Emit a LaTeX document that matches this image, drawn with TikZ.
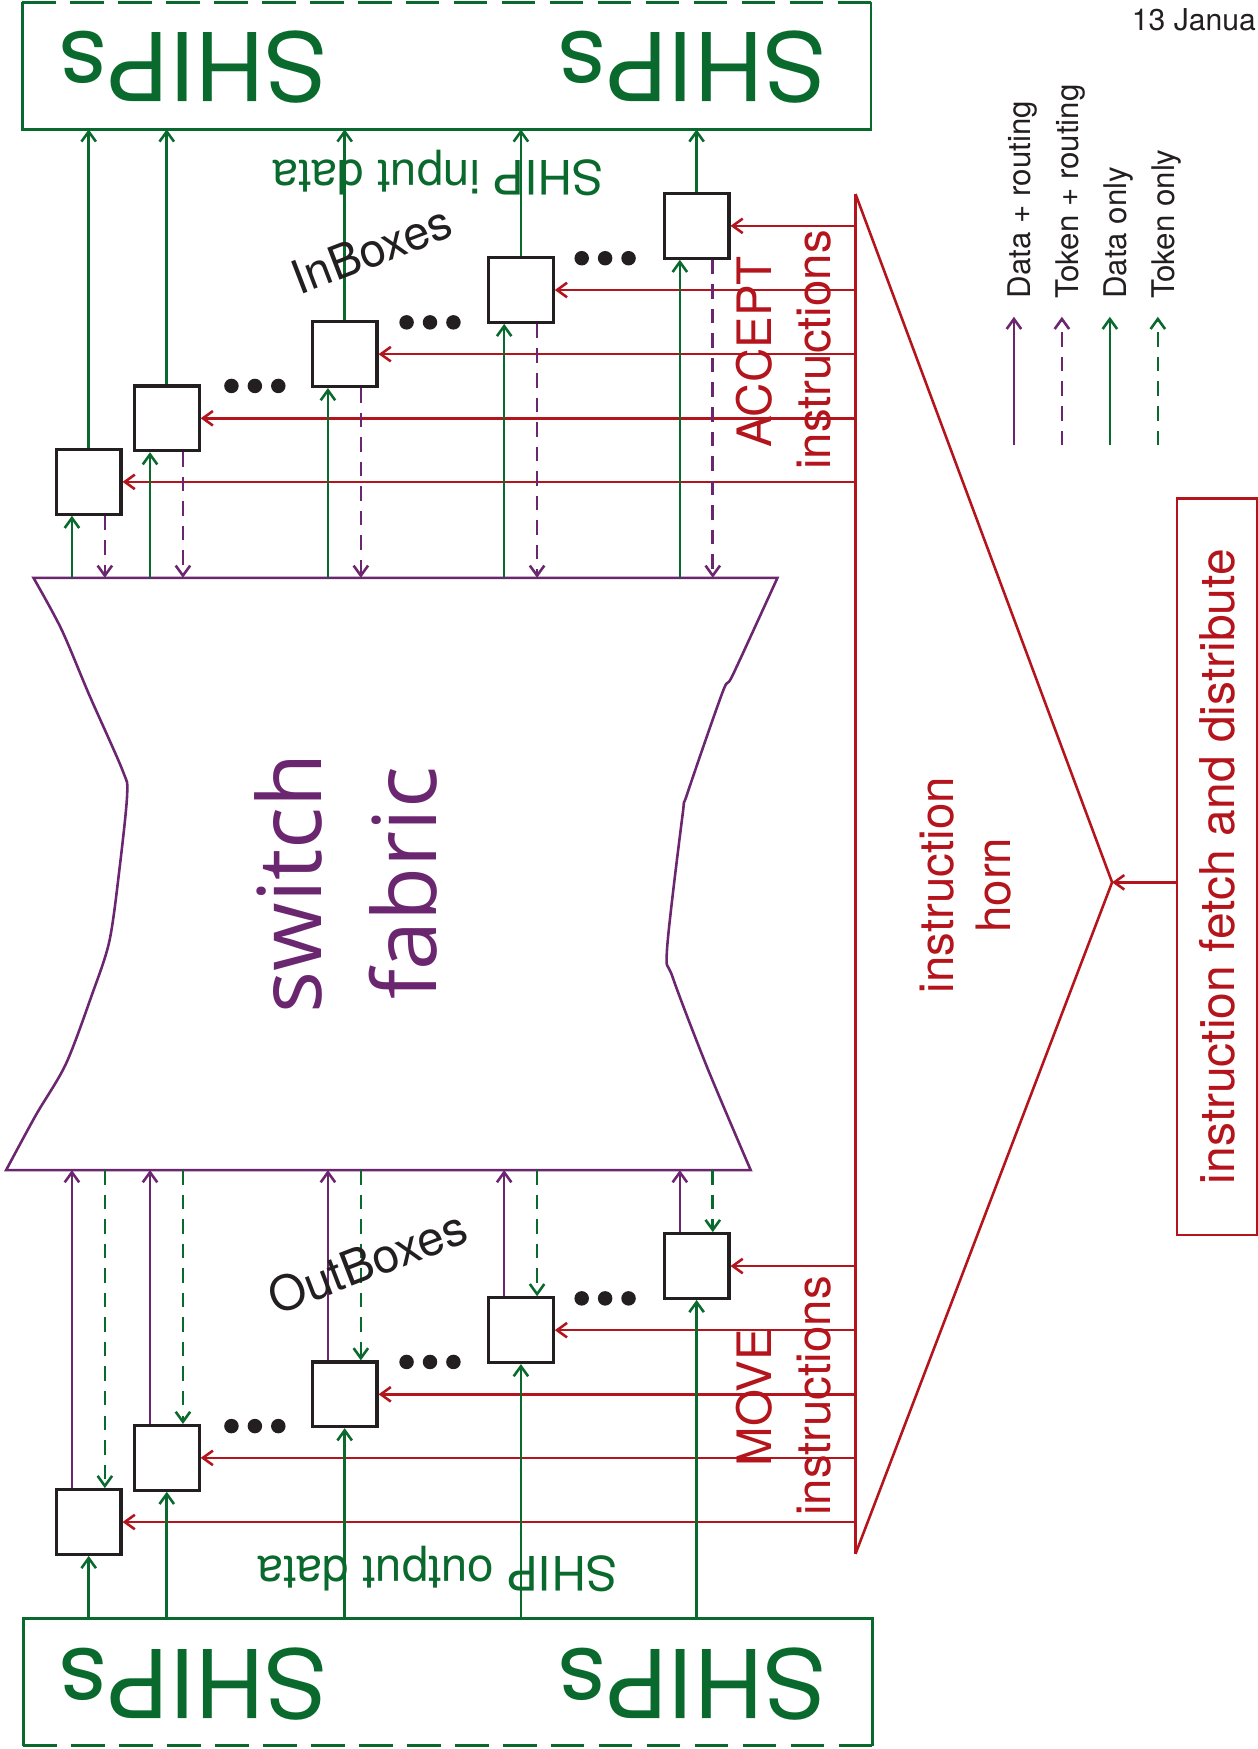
\documentclass[tikz,border=0pt]{standalone}
\usepackage{fontspec}
\setmainfont{TeX Gyre Heros}
\newfontfamily\fabfont{Open Sans}
\usetikzlibrary{arrows.meta,calc}
\definecolor{sg}{RGB}{10,106,46}
\definecolor{pu}{RGB}{107,38,112}
\definecolor{rd}{RGB}{180,20,28}
\definecolor{bk}{RGB}{35,31,32}
\newcommand\fsz[1]{\fontsize{#1}{#1}\selectfont}
\begin{document}
\begin{tikzpicture}[x=1pt,y=-1pt,
  tip/.style={-{Straight Barb[length=9pt,width=13pt,line width=2.3pt]}},
  dat/.style={draw=sg, line width=2.3pt},
  pdat/.style={draw=pu, line width=2.3pt},
  tok/.style={draw=pu, line width=2.3pt, dash pattern=on 13pt off 9pt},
  gtok/.style={draw=sg, line width=2.3pt, dash pattern=on 13pt off 9pt},
  ins/.style={draw=rd, line width=2.3pt},
  ibox/.style={draw=bk, fill=white, line width=2.8pt, minimum width=58pt, minimum height=58pt, inner sep=0pt},
  txt/.style={inner sep=0pt},
]
\useasboundingbox (0,0) rectangle (1127,1568);
\fill[white] (0,0) rectangle (1127,1568);

% SHIPs boxes
\draw[sg, line width=2.3pt] (20,2) -- (20,116) -- (781,116) -- (781,2);
\draw[sg, line width=2.3pt, dash pattern=on 30pt off 13pt] (20,2) -- (781,2);
\draw[sg, line width=2.3pt] (21,1565) -- (21,1451) -- (782,1451) -- (782,1565);
\draw[sg, line width=2.3pt, dash pattern=on 30pt off 13pt] (21,1565) -- (782,1565);
\node[txt, rotate=180, text=sg, font=\fsz{85}] (sh1) at (173.5,60.5) {SHIPs};
\node[txt, rotate=180, text=sg, font=\fsz{85}] (sh2) at (620.5,60.5) {SHIPs};
\node[txt, rotate=180, text=sg, font=\fsz{85}] (sh3) at (173.5,1510) {SHIPs};
\node[txt, rotate=180, text=sg, font=\fsz{85}] (sh4) at (620.5,1510) {SHIPs};
\node[txt, rotate=180, anchor=base, text=sg, font=\fsz{42.5}] (sin) at (392.5,143.5) {SHIP input data};
\node[txt, rotate=180, anchor=base, text=sg, font=\fsz{42.5}] (sout) at (392,1395.6) {SHIP output data};

% switch fabric
\draw[pu, line width=2.3pt, fill=white] (30,518) -- (697,518)
  -- plot[smooth, tension=0.5] coordinates {(697,518) (657,605) (648,620) (616,712) (612,730) (598,851) (603,876) (634,957) (673,1049)}
  -- (5.5,1049)
  -- plot[smooth, tension=0.5] coordinates {(5.5,1049) (32,1000) (59,954) (82,893) (98,844) (107,780) (114,712) (110,691) (80,623) (55,564) (30,518)} -- cycle;
\node[txt, rotate=90, anchor=base, text=pu, font=\fabfont\fsz{79}] (sw) at (288,792) {switch};
\node[txt, rotate=90, anchor=base, text=pu, font=\fabfont\fsz{79}] (fb) at (391,792) {fabric};

% instruction horn
\coordinate (apex) at (997,791);
\draw[rd, line width=2.3pt] (767,174) -- (apex) -- (767,1393);
\draw[rd, line width=3.2pt] (767,174) -- (767,1393);
\node[txt, rotate=90, anchor=base, text=rd, font=\fsz{42.5}] (ih1) at (854.7,793.5) {instruction};
\node[txt, rotate=90, anchor=base, text=rd, font=\fsz{42.5}] (ih2) at (905.5,793.5) {horn};
\node[txt, rotate=90, anchor=base, text=rd, font=\fsz{42.5}] (acc1) at (692,315.3) {ACCEPT};
\node[txt, rotate=90, anchor=base, text=rd, font=\fsz{42.5}] (acc2) at (744.1,313.7) {instructions};
\node[txt, rotate=90, anchor=base, text=rd, font=\fsz{42.5}] (mov1) at (692,1253) {MOVE};
\node[txt, rotate=90, anchor=base, text=rd, font=\fsz{42.5}] (mov2) at (744.1,1251.5) {instructions};

% fetch box
\node[draw=rd, line width=2.3pt, rotate=90, minimum width=660pt, minimum height=72pt, inner sep=0pt, text=rd, font=\fsz{43}] (fetch) at (1091,777) {instruction fetch and distribute};
\draw[ins, tip] (fetch.north |- apex) -- (apex);

% boxes and coordinates
\foreach \i/\x/\yi/\yo in {1/79.5/432/1364.5, 2/149.5/375/1307, 3/309/317.5/1250, 4/467/260/1192.5, 5/624.5/202.5/1135} {
  \coordinate (fa\i) at (\x-15,518);
  \coordinate (fb\i) at (\x+14.5,518);
  \coordinate (ga\i) at (\x-15,1049);
  \coordinate (gb\i) at (\x+14.5,1049);
  \coordinate (st\i) at (\x,116);
  \coordinate (sb\i) at (\x,1451);
  \coordinate (ha\i) at (767,\yi);
  \coordinate (hb\i) at (767,\yo);
  \node[ibox] (in\i) at (\x,\yi) {};
  \node[ibox] (out\i) at (\x,\yo) {};
}
\foreach \i in {1,...,5} {
  \draw[dat, tip] (in\i.north) -- (st\i);
  \draw[dat, tip] (fa\i) -- (fa\i |- in\i.south);
  \draw[tok, tip] (fb\i |- in\i.south) -- (fb\i);
  \draw[ins, tip] (ha\i) -- (in\i.east);
  \draw[dat, tip] (sb\i) -- (out\i.south);
  \draw[pdat, tip] (ga\i |- out\i.north) -- (ga\i);
  \draw[gtok, tip] (gb\i) -- (gb\i |- out\i.north);
  \draw[ins, tip] (hb\i) -- (out\i.east);
}

% ellipsis dots
\foreach \x/\y in {207.5/346, 364.5/289, 521.5/231.5, 207.5/1278.5, 364.5/1221, 521.5/1164} {
  \foreach \d in {0,21,42} {
    \fill[bk] (\x+\d,\y) circle[radius=6.5pt];
  }
}

% labels
\node[txt, rotate=21, anchor=base, text=bk, font=\fsz{42}] (inb) at (338.3,237.9) {InBoxes};
\node[txt, rotate=21, anchor=base, text=bk, font=\fsz{43}] (outb) at (334.7,1146) {OutBoxes};

% legend
\coordinate (l1a) at (909,399); \coordinate (l1b) at (909,284);
\coordinate (l2a) at (952,399); \coordinate (l2b) at (952,284);
\coordinate (l3a) at (995,399); \coordinate (l3b) at (995,284);
\coordinate (l4a) at (1038,399); \coordinate (l4b) at (1038,284);
\draw[pdat, tip] (l1a) -- (l1b);
\draw[tok, tip] (l2a) -- (l2b);
\draw[dat, tip] (l3a) -- (l3b);
\draw[gtok, tip] (l4a) -- (l4b);
\node[txt, rotate=90, anchor=base west, text=bk, font=\fsz{28}] (lg1) at (923.4,267.5) {Data + routing};
\node[txt, rotate=90, anchor=base west, text=bk, font=\fsz{28}] (lg2) at (966.6,268) {Token + routing};
\node[txt, rotate=90, anchor=base west, text=bk, font=\fsz{28}] (lg3) at (1009.5,268) {Data only};
\node[txt, rotate=90, anchor=base west, text=bk, font=\fsz{28}] (lg4) at (1052.6,268) {Token only};

\node[txt, anchor=base west, text=bk, font=\fsz{27}] (date) at (1014.6,27) {13 Janua};
\end{tikzpicture}
\end{document}
